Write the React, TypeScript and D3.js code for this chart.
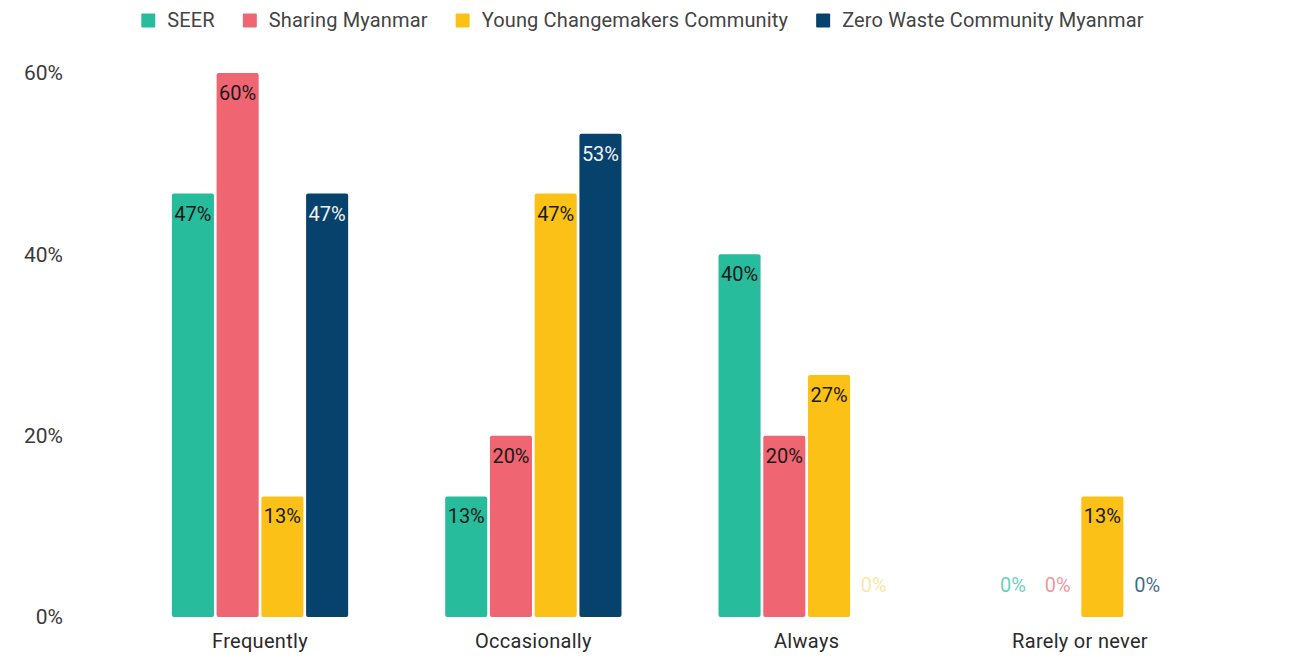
import React, { useEffect, useRef } from "react";
import * as d3 from "d3";

const categories = ["Frequently", "Occasionally", "Always", "Rarely or never"];
const seriesNames = ["SEER", "Sharing Myanmar", "Young Changemakers Community", "Zero Waste Community Myanmar"];
const seriesColors = ["#26bc9c", "#f06572", "#fbc117", "#06426b"];
const labelColors = ["#1a1a1a", "#1a1a1a", "#1a1a1a", "#f2f2f2"];
// values in percent, per series, per category
const seer = [46.7, 13.3, 40, 0];
const sharing = [60, 20, 20, 0];
const young = [13.3, 46.7, 26.7, 13.3];
const zeroWaste = [46.7, 53.3, 0, 0];
const seriesValues = [seer, sharing, young, zeroWaste];
const yTicks = [0, 20, 40, 60];
// which series colour tints each "0%" label (per category, per series)
const zeroLabelTint = [
  [0, 1, 2, 3],
  [0, 1, 2, 3],
  [0, 1, 2, 2],
  [0, 1, 2, 3],
];
const zeroLabelOpacity = [0.7, 0.7, 0.4, 0.78];

const W = 1294;
const H = 669;

export default function App() {
  const ref = useRef<SVGSVGElement | null>(null);

  useEffect(() => {
    const svg = d3.select(ref.current);
    svg.selectAll("*").remove();
    const font = "Roboto, 'Noto Sans', sans-serif";

    const x0 = d3
      .scaleBand<string>()
      .domain(categories)
      .range([123.35, 1216.65])
      .paddingInner(0.355)
      .paddingOuter(0.1775);
    const x1 = d3
      .scaleBand<string>()
      .domain(seriesNames)
      .range([0, x0.bandwidth()])
      .paddingInner(0.06)
      .paddingOuter(0);
    const y = d3.scaleLinear().domain([0, 60]).range([617, 73]);

    // y tick labels
    svg
      .append("g")
      .selectAll("text")
      .data(yTicks)
      .join("text")
      .attr("x", 63)
      .attr("y", (d) => y(d))
      .attr("dy", "0.35em")
      .attr("text-anchor", "end")
      .attr("font-family", font)
      .attr("font-size", 21)
      .attr("fill", "#3a3a3a")
      .text((d) => `${d}%`);

    // x labels
    svg
      .append("g")
      .selectAll("text")
      .data(categories)
      .join("text")
      .attr("x", (d) => (x0(d) as number) + x0.bandwidth() / 2)
      .attr("y", 648)
      .attr("text-anchor", "middle")
      .attr("font-family", font)
      .attr("font-size", 20)
      .attr("letter-spacing", 0.3)
      .attr("fill", "#2a2a2a")
      .text((d) => d);

    const cells: { c: number; s: number; v: number }[] = [];
    categories.forEach((_, c) =>
      seriesNames.forEach((_, s) => cells.push({ c, s, v: seriesValues[s][c] }))
    );

    const bx = (d: { c: number; s: number }) =>
      (x0(categories[d.c]) as number) + (x1(seriesNames[d.s]) as number);

    svg
      .append("g")
      .selectAll("rect")
      .data(cells.filter((d) => d.v > 0))
      .join("rect")
      .attr("x", (d) => bx(d))
      .attr("y", (d) => y(d.v))
      .attr("width", x1.bandwidth())
      .attr("height", (d) => y(0) - y(d.v))
      .attr("rx", 2)
      .attr("fill", (d) => seriesColors[d.s]);

    svg
      .append("g")
      .selectAll("text")
      .data(cells)
      .join("text")
      .attr("x", (d) => bx(d) + x1.bandwidth() / 2)
      .attr("y", (d) => (d.v > 0 ? y(d.v) + 27 : y(0) - 25))
      .attr("text-anchor", "middle")
      .attr("font-family", font)
      .attr("font-size", 20)
      .attr("fill", (d) => (d.v > 0 ? labelColors[d.s] : seriesColors[zeroLabelTint[d.c][d.s]]))
      .attr("fill-opacity", (d) => (d.v > 0 ? 1 : zeroLabelOpacity[zeroLabelTint[d.c][d.s]]))
      .text((d) => `${Math.round(d.v)}%`);

    // legend
    const lg = svg.append("g");
    const items = lg.selectAll("g").data(seriesNames).join("g");
    items
      .append("rect")
      .attr("width", 14)
      .attr("height", 14)
      .attr("y", 13.5)
      .attr("rx", 1)
      .attr("fill", (_, i) => seriesColors[i]);
    items
      .append("text")
      .attr("x", 26)
      .attr("y", 27)
      .attr("font-family", font)
      .attr("font-size", 20)
      .attr("letter-spacing", 0.15)
      .attr("fill", "#444")
      .text((d) => d);
    let cx = 0;
    const gap = 28;
    items.each(function () {
      const t = d3.select(this).select("text").node() as SVGTextElement;
      const w = 26 + t.getComputedTextLength();
      d3.select(this).attr("transform", `translate(${cx},0)`);
      cx += w + gap;
    });
    const total = cx - gap;
    lg.attr("transform", `translate(${642.5 - total / 2},0)`);
  }, []);

  return (
    <svg
      ref={ref}
      width={W}
      height={H}
      style={{ position: "absolute", left: 0, top: 0, background: "#fff" }}
    />
  );
}
